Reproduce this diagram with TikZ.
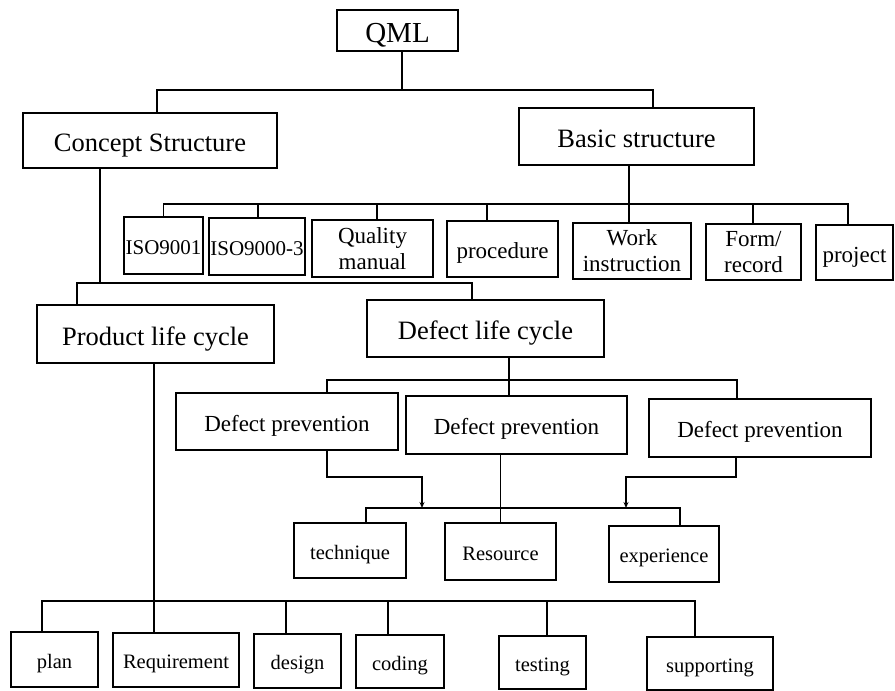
\documentclass[tikz,border=0pt]{standalone}
\usepackage{fontspec}
\setmainfont{Liberation Serif}
\usetikzlibrary{arrows.meta}

\begin{document}
\begin{tikzpicture}[
    x=1pt, y=-1pt,
    >={Stealth[length=6pt, width=5pt, open]},
    line width=1.2pt,
    box/.style n args={2}{
        rectangle, draw, inner sep=0pt,
        minimum width=#1pt, minimum height=#2pt
    },
    twoline/.style={align=center, text height={}, text depth={}},
    rootfont/.style={font=\fontsize{29}{32}\selectfont, text height=24.4pt, text depth=0pt},
    headfont/.style={font=\fontsize{26.5}{30}\selectfont, text height=22.3pt, text depth=0pt},
    docfont/.style={font=\fontsize{23}{26}\selectfont, text height=19.3pt, text depth=0pt},
    isofont/.style={font=\fontsize{21}{25}\selectfont, text height=17.6pt, text depth=0pt},
    leaffont/.style={font=\fontsize{20.5}{24}\selectfont, text height=17.2pt, text depth=0pt},
    arrow/.style={->},
]
\useasboundingbox (0,0) rectangle (895,691);

% Bus levels
\coordinate (busA) at (0,90);
\coordinate (busB) at (0,204);
\coordinate (busC) at (0,283);
\coordinate (busD) at (0,380);
\coordinate (elbow) at (0,477);
\coordinate (busE) at (0,508);
\coordinate (busF) at (0,601);

% Root
\node[box={121}{41}, rootfont] (qml) at (397.5,30.5) {QML};

% Second level
\node[box={254}{55}, headfont] (concept) at (150,140.5) {Concept Structure};
\node[box={235}{57}, headfont] (basic) at (636.5,136.5) {Basic structure};

% Basic structure documents
\node[box={79}{57}, isofont] (iso1) at (163.5,245.5) {ISO9001};
\node[box={96}{57}, isofont] (iso3) at (257,246.5) {ISO9000-3};
\node[box={121}{57}, docfont, twoline] (qman) at (372.5,248.5) {Quality\\manual};
\node[box={111}{56}, docfont] (proc) at (502.5,249) {procedure};
\node[box={118}{56}, docfont, twoline] (work) at (632,251) {Work\\instruction};
\node[box={95}{56}, docfont, twoline] (form) at (753.5,252) {Form/\\record};
\node[box={77}{55}, docfont] (proj) at (854.5,252.5) {project};

% Life cycles
\node[box={237}{58}, headfont] (product) at (155.5,334) {Product life cycle};
\node[box={237}{57}, headfont] (defect) at (485.5,328.5) {Defect life cycle};

% Defect prevention
\node[box={222}{57}, docfont] (dp1) at (287,421.5) {Defect prevention};
\node[box={221}{58}, docfont] (dp2) at (516.5,425) {Defect prevention};
\node[box={222}{58}, docfont] (dp3) at (760,428) {Defect prevention};

% Resources
\node[box={112}{55}, leaffont] (tech) at (350,550.5) {technique};
\node[box={111}{57}, leaffont] (res) at (500.5,551.5) {Resource};
\node[box={110}{56}, leaffont] (exp) at (664,554) {experience};

% Product phases
\node[box={87}{55}, leaffont] (plan) at (54.5,659.5) {plan};
\node[box={126}{54}, leaffont] (req) at (176,660) {Requirement};
\node[box={87}{54}, leaffont] (design) at (297.5,661) {design};
\node[box={88}{53}, leaffont] (coding) at (400,661.5) {coding};
\node[box={87}{53}, leaffont] (testing) at (542.5,662.5) {testing};
\node[box={126}{53}, leaffont] (supp) at (710,663.5) {supporting};

% QML to second level
\draw ([xshift=4.5]qml.south) -- ([xshift=4.5]qml.south |- busA);
\draw ([xshift=7]concept.north) |- ([xshift=16.5]basic.north |- busA) -- ([xshift=16.5]basic.north);

% Basic structure to documents
\draw ([xshift=-7.5]basic.south) -- ([xshift=-3]work.north);
\draw (iso1.north) |- ([xshift=-6.5]proj.north |- busB) -- ([xshift=-6.5]proj.north);
\foreach \n/\s in {iso3/1, qman/4.5, proc/-15.5, form/-0.5}
    \draw ([xshift=\s]\n.north) -- ([xshift=\s]\n.north |- busB);

% Concept structure to life cycles
\draw ([xshift=-50]concept.south) -- ([xshift=-50]concept.south |- busC);
\draw ([xshift=-78.5]product.north) |- ([xshift=-13.5]defect.north |- busC) -- ([xshift=-13.5]defect.north);

% Defect life cycle to preventions
\draw ([xshift=23.5]defect.south) -- ([xshift=-7.5]dp2.north);
\draw ([xshift=40]dp1.north) |- ([xshift=-23]dp3.north |- busD) -- ([xshift=-23]dp3.north);

% Preventions to resources
\draw ([xshift=-16]dp2.south) -- (res.north);
\draw ([xshift=16]tech.north) |- ([xshift=16]exp.north |- busE) -- ([xshift=16]exp.north);
\draw[arrow] ([xshift=40]dp1.south) |- ([xshift=72]tech.north |- elbow) -- ([xshift=72]tech.north |- busE);
\draw[arrow] ([xshift=-24]dp3.south) |- ([xshift=-38]exp.north |- elbow) -- ([xshift=-38]exp.north |- busE);

% Product life cycle to phases
\draw ([xshift=-1.5]product.south) -- ([xshift=-22]req.north);
\draw ([xshift=-12.5]plan.north) |- ([xshift=-15]supp.north |- busF) -- ([xshift=-15]supp.north);
\foreach \n/\s in {design/-11.5, coding/-12, testing/4.5}
    \draw ([xshift=\s]\n.north) -- ([xshift=\s]\n.north |- busF);

\end{tikzpicture}
\end{document}
